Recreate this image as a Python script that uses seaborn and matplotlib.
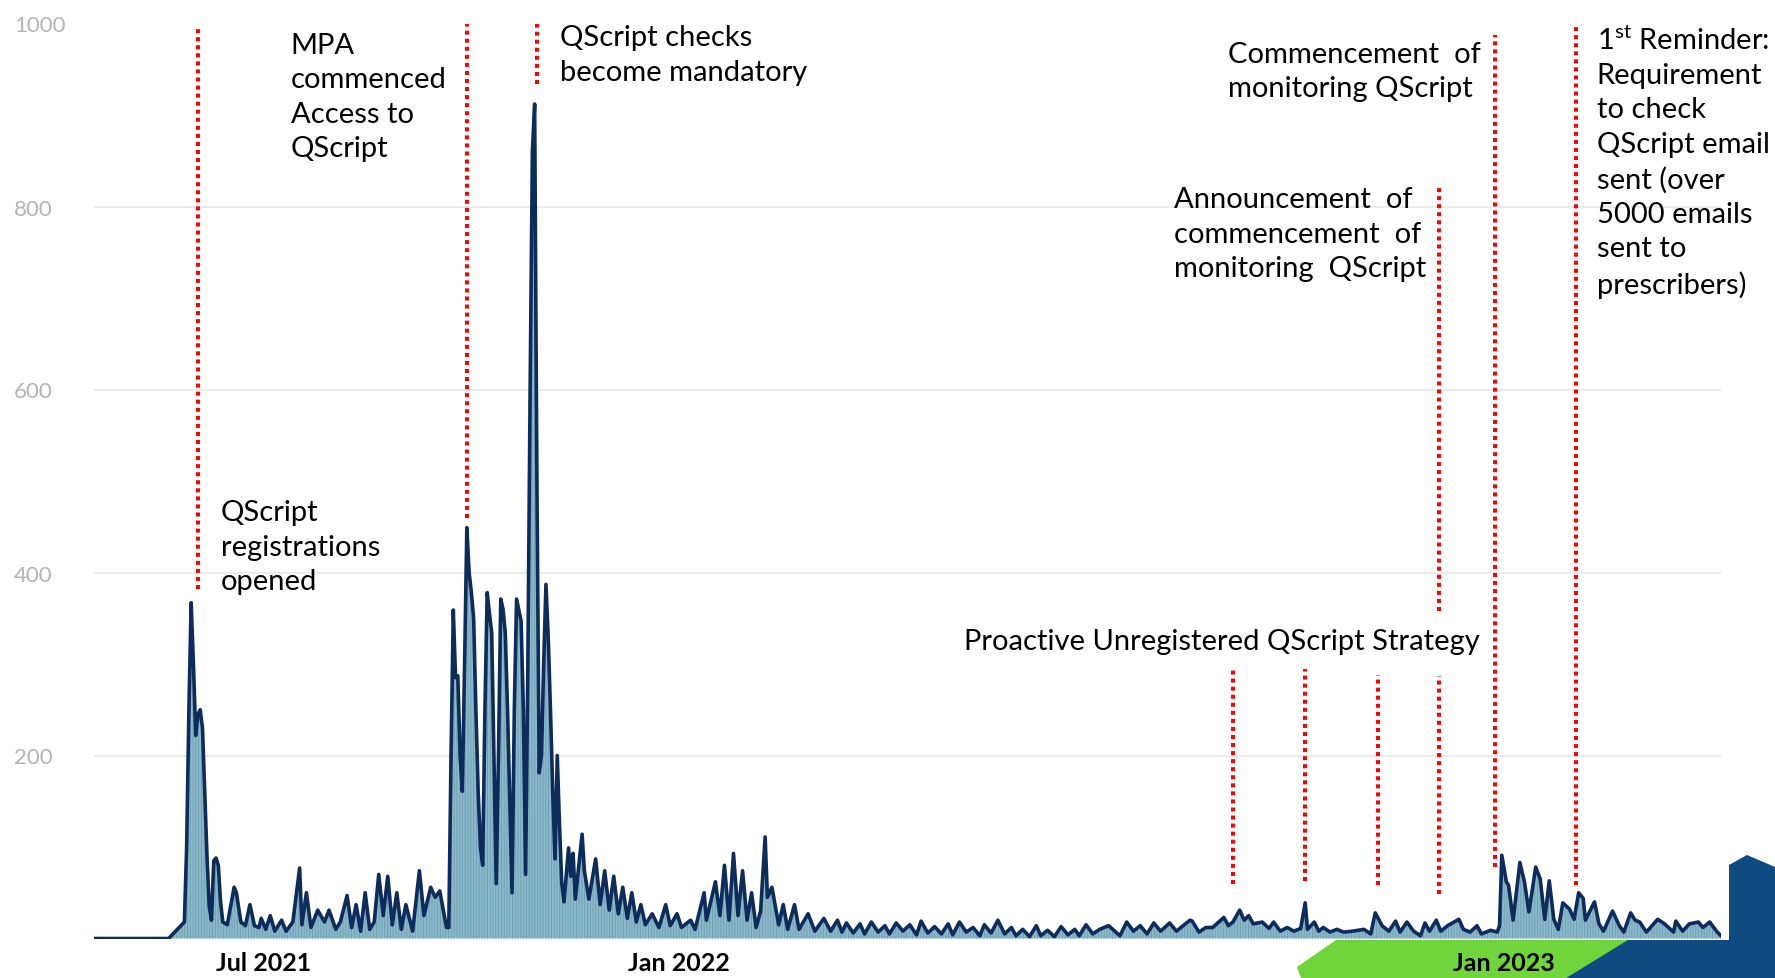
import pandas as pd
import numpy as np
import matplotlib
matplotlib.use("Agg")
import matplotlib.pyplot as plt
import matplotlib.dates as mdates
from matplotlib.patches import Polygon
import seaborn as sns

START = pd.Timestamp("2021-04-17")
END_DAY = 720

# daily QScript checks: (days since START, checks)
launch_wave = [
    (0, 0), (33, 0), (40, 18), (41, 100), (42, 250), (43, 367), (44, 300), (45, 222),
    (46, 245), (47, 250), (48, 230), (49, 160), (50, 90), (51, 35), (52, 20), (53, 85),
    (54, 88), (55, 80), (56, 40), (57, 18), (59, 15), (62, 56), (63, 50), (65, 18),
    (67, 14), (69, 37), (71, 14), (73, 12), (74, 22), (76, 10), (78, 25), (80, 8),
    (83, 20), (85, 8), (88, 18), (91, 77), (92, 15), (94, 50), (96, 12), (99, 31),
    (102, 18), (104, 31), (107, 10), (109, 18), (112, 47), (114, 12), (116, 37), (118, 8),
    (120, 50), (122, 10), (124, 18), (126, 70), (128, 25), (130, 68), (132, 15), (134, 50),
    (136, 10), (138, 37), (141, 8), (144, 74), (146, 25), (149, 56), (151, 45), (153, 52),
    (156, 12),
]

mandate_wave = [
    (157, 12), (158, 200), (159, 359), (160, 285), (161, 287), (162, 200), (163, 161),
    (164, 300), (165, 449), (166, 400), (167, 378), (168, 350), (169, 250), (170, 161),
    (171, 100), (172, 80), (173, 250), (174, 378), (175, 355), (176, 334), (177, 200),
    (178, 60), (179, 200), (180, 371), (181, 360), (182, 334), (183, 250), (184, 150),
    (185, 50), (186, 250), (187, 371), (188, 359), (189, 347), (190, 250), (191, 70),
    (192, 300), (193, 600), (194, 860), (195, 912), (196, 500), (197, 181), (198, 200),
    (199, 300), (200, 387), (201, 330), (202, 250), (203, 161), (204, 87), (205, 200),
    (206, 124), (207, 60), (208, 40), (210, 99), (211, 68), (212, 93), (213, 43),
    (216, 114), (217, 74), (219, 43), (222, 87), (224, 37), (226, 74), (228, 31),
    (230, 68), (232, 27), (234, 56), (236, 22), (238, 50), (240, 18), (242, 37),
    (244, 15), (247, 27), (250, 12), (253, 37), (255, 14), (258, 27), (260, 12),
    (264, 20), (266, 10), (270, 50), (271, 20), (275, 62), (277, 25), (279, 80),
    (281, 20), (283, 93), (285, 25), (287, 74), (289, 20), (291, 50), (293, 12),
    (295, 30), (297, 111), (298, 45), (300, 56), (303, 15), (305, 37), (307, 10),
    (310, 37), (312, 10), (316, 27), (319, 8), (323, 22), (326, 8),
]

quiet_2022 = [
    (329, 20), (331, 7), (333, 17), (336, 6), (339, 16), (341, 5), (344, 18), (347, 7),
    (350, 14), (352, 5), (355, 17), (358, 8), (361, 15), (364, 4), (366, 19), (369, 6),
    (372, 13), (375, 5), (378, 16), (380, 4), (383, 18), (386, 7), (389, 12), (392, 3),
    (394, 15), (397, 6), (400, 20), (403, 5), (406, 12), (408, 3), (411, 10), (414, 2),
    (417, 14), (419, 3), (422, 9), (425, 2), (428, 13), (431, 4), (434, 10), (436, 3),
    (439, 15), (442, 5), (445, 10), (449, 14), (454, 3), (457, 18), (460, 8), (463, 14),
    (466, 5), (469, 17), (472, 8), (476, 17), (479, 8), (485, 20), (486, 19), (489, 7),
    (492, 12), (495, 12), (500, 23), (502, 14), (504, 18), (507, 31), (509, 20), (511, 25),
    (513, 16), (517, 18), (520, 11), (522, 18), (525, 8), (528, 12), (531, 8), (534, 11),
    (536, 39), (537, 10), (540, 18), (542, 8), (544, 12), (547, 7), (550, 10), (553, 7),
    (557, 8), (562, 10), (565, 5), (567, 28), (570, 14), (573, 8), (576, 19), (578, 7),
    (581, 18), (584, 8), (587, 3), (589, 17), (591, 8), (594, 20), (596, 8), (599, 14),
    (604, 21), (606, 10), (609, 7), (612, 14), (614, 5), (618, 9), (621, 7), (622, 14),
]

reminder_wave = [
    (623, 91), (625, 62), (626, 58), (628, 20), (631, 83), (633, 62), (635, 29), (638, 78),
    (640, 65), (642, 21), (644, 63), (646, 21), (648, 10), (650, 39), (653, 32), (655, 21),
    (657, 50), (659, 44), (660, 20), (664, 40), (666, 16), (668, 8), (672, 30), (675, 14),
    (677, 7), (680, 28), (682, 20), (684, 18), (687, 7), (692, 21), (695, 16), (699, 7),
    (700, 19), (703, 8), (706, 16), (710, 18), (712, 12), (715, 18), (718, 8), (720, 3),
]

# red dotted event markers: day, lower and upper end (in checks)
event_days = [46, 165, 196, 504, 536, 568, 595, 595, 620, 656]
event_low = [382, 460, 934, 60, 63, 58, 358, 49, 78, 59]
event_high = [995, 999, 999, 297, 295, 288, 825, 287, 987, 996]

notes = [
    "QScript\nregistrations\nopened",
    "MPA\ncommenced\nAccess to\nQScript",
    "QScript checks\nbecome mandatory",
    "Commencement  of\nmonitoring QScript",
    "Announcement  of\ncommencement  of\nmonitoring  QScript",
    "Proactive Unregistered QScript Strategy",
    "1$^{\\mathrm{st}}$ Reminder:\nRequirement\nto check\nQScript email\nsent (over\n5000 emails\nsent to\nprescribers)",
]
note_day = [56, 87, 206, 502, 478, 385, 665]
note_top = [480, 991, 999, 981, 822, 325, 999]
note_va = ["top", "top", "top", "top", "top", "center", "top"]

x_ticks = ["2021-07-01", "2022-01-01", "2023-01-01"]
y_ticks = [200, 400, 600, 800, 1000]

df = pd.DataFrame(launch_wave + mandate_wave + quiet_2022 + reminder_wave,
                  columns=["day", "checks"])
df["date"] = START + pd.to_timedelta(df["day"], unit="D")

sns.set_theme(style="white")
plt.rcParams["font.family"] = ["Lato", "DejaVu Sans"]
plt.rcParams["mathtext.fontset"] = "custom"
plt.rcParams["mathtext.rm"] = "Lato"
plt.rcParams["hatch.linewidth"] = 0.6

W, H = 1775, 979
fig = plt.figure(figsize=(W / 100, H / 100), dpi=100)
ax = fig.add_axes([94 / W, 39.5 / H, 1627 / W, 915 / H])
ax.patch.set_alpha(0)

ax.fill_between(df["date"], df["checks"], 0, facecolor="#8cbacb",
                edgecolor="#6c9cb1", hatch="||||||", linewidth=0, zorder=2)
sns.lineplot(data=df, x="date", y="checks", color="#0d2b5b", linewidth=2.6,
             ax=ax, zorder=3)

event_dates = START + pd.to_timedelta(event_days, unit="D")
ax.vlines(event_dates, event_low, event_high, colors="#ff0000",
          linestyles=(0, (1, 1)), linewidth=2.9, capstyle="butt", zorder=4)

for text, d, y, va in zip(notes, note_day, note_top, note_va):
    ax.text(START + pd.Timedelta(days=d), y, text, fontsize=21, ha="left", va=va,
            linespacing=1.4, color="black", zorder=5)

ax.set_xlim(START, START + pd.Timedelta(days=END_DAY))
ax.set_ylim(0, 1000)
ax.set_xticks(pd.to_datetime(x_ticks))
ax.xaxis.set_major_formatter(mdates.DateFormatter("%b %Y"))
ax.set_yticks(y_ticks)
ax.set_xlabel("")
ax.set_ylabel("")

ax.tick_params(axis="x", length=0, pad=9, labelsize=18, labelcolor="black")
for lbl in ax.get_xticklabels():
    lbl.set_fontweight("bold")
ax.tick_params(axis="y", length=0, pad=57.6, labelsize=16, labelcolor="#b4b4b4")
for lbl in ax.get_yticklabels():
    lbl.set_horizontalalignment("left")

ax.grid(axis="y", color="#e6e6e6", linewidth=1.1)
ax.yaxis.get_gridlines()[-1].set_visible(False)
ax.set_axisbelow(True)
for s in ax.spines.values():
    s.set_visible(False)

# slide decoration in the bottom right corner
def to_fig(pts):
    return [(x / W, 1 - y / H) for x, y in pts]

green = [(1336, 941), (1630, 941), (1566, 979), (1301, 979), (1297, 968)]
blue = [(1628, 941), (1729, 941), (1729, 866), (1747, 856), (1775, 868),
        (1775, 979), (1566, 979)]
fig.patches.append(Polygon(to_fig(green), closed=True, transform=fig.transFigure,
                           facecolor="#6fd53a", edgecolor="none", zorder=-1))
fig.patches.append(Polygon(to_fig(blue), closed=True, transform=fig.transFigure,
                           facecolor="#0f4a80", edgecolor="none", zorder=-1))

fig.savefig("out.png", dpi=100)
